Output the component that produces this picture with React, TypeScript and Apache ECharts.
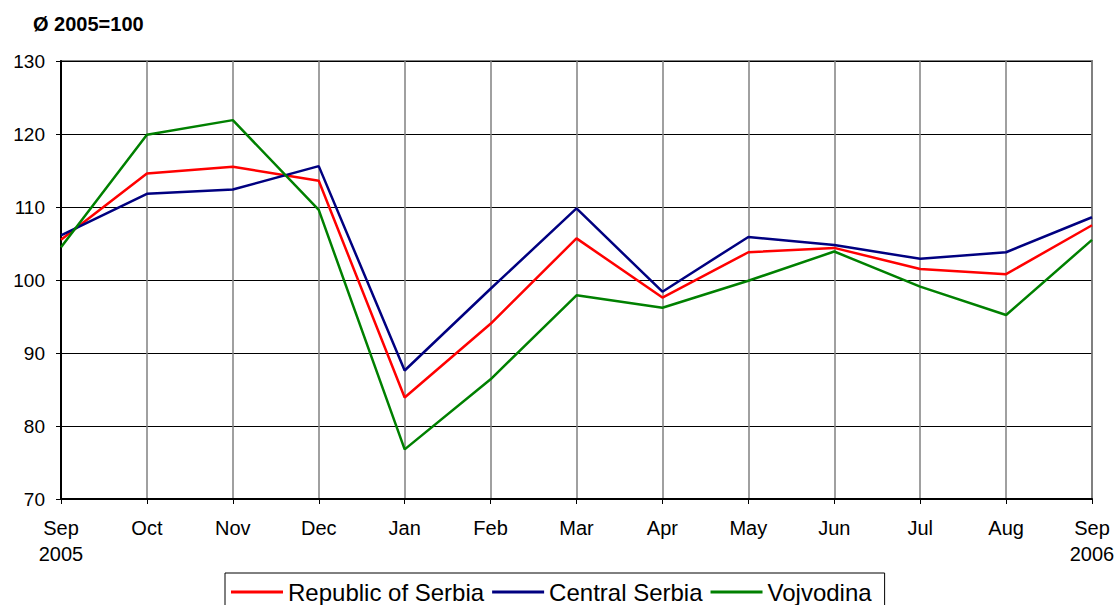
import React, { useEffect, useRef } from "react";
import * as echarts from "echarts";

const categories = ["Sep\n2005", "Oct", "Nov", "Dec", "Jan", "Feb", "Mar", "Apr", "May", "Jun", "Jul", "Aug", "Sep\n2006"];
const republicOfSerbia = [105.5, 114.6, 115.5, 113.6, 83.9, 94.0, 105.7, 97.6, 103.8, 104.4, 101.5, 100.8, 107.5];
const centralSerbia = [106.1, 111.8, 112.4, 115.6, 87.6, 98.8, 109.8, 98.4, 105.9, 104.8, 102.9, 103.8, 108.6];
const vojvodina = [104.5, 119.9, 121.9, 109.6, 76.8, 86.4, 97.9, 96.2, 99.9, 103.9, 99.1, 95.2, 105.5];
const seriesNames = ["Republic of Serbia", "Central Serbia", "Vojvodina"];
const colors = ["#FF0000", "#000080", "#008000"];

const FONT = "Liberation Sans, Arial, sans-serif";

export default function App() {
  const ref = useRef<HTMLDivElement>(null);
  useEffect(() => {
    if (!ref.current) return;
    const chart = echarts.init(ref.current, undefined, { renderer: "svg" });
    const data = [republicOfSerbia, centralSerbia, vojvodina];
    chart.setOption({
      animation: false,
      textStyle: { fontFamily: FONT },
      title: {
        text: "Ø 2005=100",
        left: 33,
        top: 14,
        padding: 0,
        textStyle: { fontFamily: FONT, fontSize: 20, fontWeight: "bold", color: "#000" },
      },
      grid: {
        left: 61,
        right: 27,
        top: 61,
        bottom: 106,
        show: true,
        borderColor: "#808080",
        borderWidth: 2,
      },
      legend: {
        left: 225,
        top: 573,
        data: seriesNames.map((n) => ({ name: n, icon: "rect" })),
        itemWidth: 52,
        itemHeight: 3,
        itemGap: 8,
        padding: [7, 13, 7, 6],
        borderColor: "#000",
        borderWidth: 1,
        textStyle: { fontFamily: FONT, fontSize: 24, color: "#000" },
      },
      xAxis: {
        type: "category",
        data: categories,
        boundaryGap: false,
        axisLine: { show: true, lineStyle: { color: "#000", width: 2 } },
        axisTick: { show: true, length: 5, alignWithLabel: true, lineStyle: { color: "#000" } },
        axisLabel: { color: "#000", fontSize: 20, fontFamily: FONT, margin: 16, lineHeight: 26, interval: 0 },
        splitLine: { show: true, lineStyle: { color: "#808080", width: 1.5 } },
      },
      yAxis: {
        type: "value",
        min: 70,
        max: 130,
        interval: 10,
        axisLine: { show: true, lineStyle: { color: "#000", width: 2 } },
        axisTick: { show: true, length: 5, lineStyle: { color: "#000" } },
        axisLabel: { color: "#000", fontSize: 19, fontFamily: FONT, margin: 16 },
        splitLine: { show: true, lineStyle: { color: "#000", width: 1 } },
      },
      series: data.map((d, i) => ({
        name: seriesNames[i],
        type: "line",
        data: d,
        symbol: "none",
        lineStyle: { color: colors[i], width: 2.5 },
        itemStyle: { color: colors[i] },
      })),
    });
    return () => chart.dispose();
  }, []);
  return <div ref={ref} style={{ width: 1119, height: 605, position: "absolute", left: 0, top: 0 }} />;
}
